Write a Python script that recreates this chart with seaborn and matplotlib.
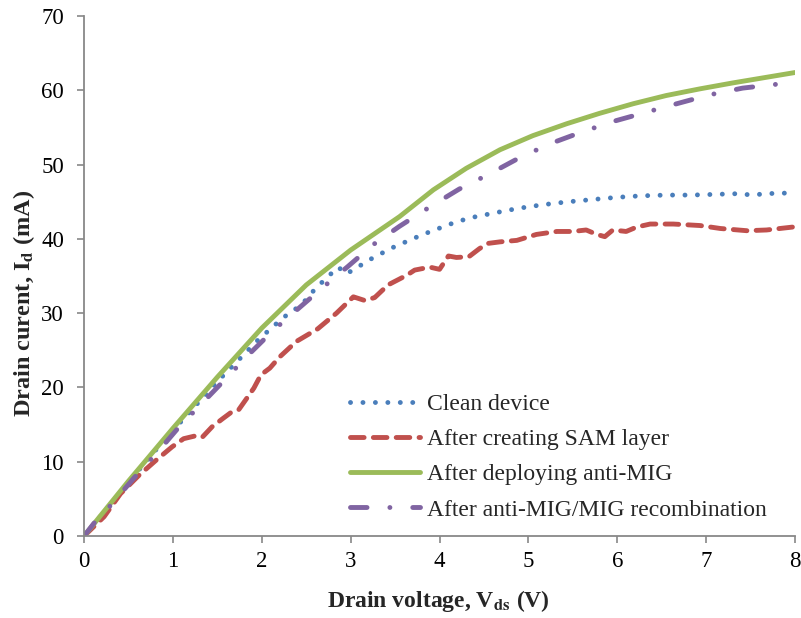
import matplotlib
matplotlib.use("Agg")
import matplotlib.pyplot as plt
import seaborn as sns
import numpy as np

# ---- data ----
clean_x = [0, 0.25, 0.5, 0.75, 1, 1.25, 1.5, 1.755, 1.94, 2.24, 2.35, 2.46, 2.55, 2.62, 2.76, 2.86, 2.95,
           3.07, 3.18, 3.31, 3.43, 3.56, 3.68, 3.81, 3.95, 4.07, 4.33, 4.62, 4.88, 5.16, 5.45, 5.72, 6.0,
           6.27, 6.55, 6.83, 7.11, 7.39, 7.5, 7.7, 8]
clean_y = [0, 3.6, 7.2, 10.8, 14.2, 17.5, 20.8, 23.9, 26.2, 29.4, 30.3, 31.3, 32.6, 33.5, 35.1, 36.2, 35.3,
           36.1, 37.0, 37.8, 38.6, 39.3, 39.9, 40.6, 41.2, 41.8, 42.8, 43.5, 44.1, 44.6, 45.0, 45.3, 45.6,
           45.8, 45.9, 45.9, 46.0, 46.1, 45.9, 46.1, 46.2]

sam_x = [0, 0.225, 0.41, 0.62, 0.81, 0.99, 1.12, 1.26, 1.33, 1.44, 1.56, 1.65, 1.74, 1.84, 1.91, 1.99, 2.09,
         2.2, 2.39, 2.63, 2.84, 3.03, 3.16, 3.27, 3.42, 3.63, 3.72, 3.89, 4.0, 4.1, 4.19, 4.33, 4.45, 4.55,
         4.68, 4.87, 5.09, 5.32, 5.5, 5.65, 5.77, 5.86, 5.95, 6.1, 6.22, 6.37, 6.63, 6.93, 7.16, 7.46, 7.68, 7.98]
sam_y = [0, 2.6, 5.7, 8.2, 10.2, 12.0, 13.1, 13.5, 13.3, 14.7, 15.8, 16.6, 17.0, 18.7, 19.9, 21.7, 22.6,
         24.1, 26.2, 27.9, 30.0, 32.2, 31.7, 32.1, 33.8, 35.1, 35.8, 36.2, 35.9, 37.7, 37.5, 37.6, 38.7, 39.4,
         39.6, 39.8, 40.6, 41.0, 41.0, 41.2, 40.6, 40.3, 41.2, 41.0, 41.6, 42.0, 42.0, 41.8, 41.4, 41.1, 41.2, 41.6]

anti_x = [0, 0.5, 1, 1.5, 2, 2.5, 3, 3.55, 3.93, 4.3, 4.68, 5.05, 5.43, 5.8, 6.18, 6.55, 6.93, 7.3, 7.65, 8]
anti_y = [0, 7.4, 14.5, 21.4, 28.0, 33.8, 38.5, 43.0, 46.6, 49.5, 52.0, 53.9, 55.5, 56.9, 58.2, 59.3, 60.2,
          61.0, 61.7, 62.4]

rec_x = [0, 0.11, 0.32, 0.56, 0.82, 1.07, 1.33, 1.58, 1.85, 2.13, 2.39, 2.69, 2.97, 3.25, 3.55, 3.89, 4.22,
         4.57, 4.88, 5.24, 5.58, 5.95, 6.31, 6.67, 7.04, 7.41, 7.78, 8]
rec_y = [0, 1.7, 4.4, 7.8, 11.2, 14.7, 17.9, 21.0, 24.4, 27.7, 30.4, 33.5, 36.3, 39.2, 41.7, 44.3, 46.7,
         48.8, 50.8, 52.8, 54.3, 55.8, 57.0, 58.2, 59.4, 60.3, 60.8, 61.3]

labels = ["Clean device", "After creating SAM layer", "After deploying anti-MIG",
          "After anti-MIG/MIG recombination"]
x_ticks = [0, 1, 2, 3, 4, 5, 6, 7, 8]
y_ticks = [0, 10, 20, 30, 40, 50, 60, 70]

# ---- style ----
sns.set_style("white")
plt.rcParams['font.family'] = ['Liberation Serif', 'DejaVu Serif']
plt.rcParams['mathtext.fontset'] = 'stix'

fig = plt.figure(figsize=(8.01, 6.18), dpi=100)
ax = fig.add_axes([0.105, 0.1327, 0.8875, 0.8413])

lw = 3.5
sns.lineplot(x=clean_x, y=clean_y, ax=ax, color="#4A7EBB", lw=lw, label=labels[0],
             linestyle=(0, (0.01, 2.55)), dash_capstyle='round', sort=False, estimator=None)
sns.lineplot(x=sam_x, y=sam_y, ax=ax, color="#C0504D", lw=lw, label=labels[1],
             linestyle=(0, (2.8, 1.9)), dash_capstyle='round', sort=False, estimator=None)
sns.lineplot(x=anti_x, y=anti_y, ax=ax, color="#9BBB59", lw=lw, label=labels[2],
             linestyle='-', solid_capstyle='round', sort=False, estimator=None)
sns.lineplot(x=rec_x, y=rec_y, ax=ax, color="#8064A2", lw=lw, label=labels[3],
             linestyle=(0, (3.4, 4.7, 0.01, 4.7)), dash_capstyle='round', sort=False, estimator=None)

ax.set_xlim(0, 8)
ax.set_ylim(0, 70)
ax.set_xticks(x_ticks)
ax.set_yticks(y_ticks)
ax.tick_params(axis='both', labelsize=16.5, direction='out', length=5, width=1.2,
               color='#888888', labelcolor='black', bottom=True, left=True)
ax.tick_params(axis='x', pad=6)
ax.tick_params(axis='y', pad=9.5)
for s in ['top', 'right']:
    ax.spines[s].set_visible(False)
for s in ['left', 'bottom']:
    ax.spines[s].set_color('#888888')
    ax.spines[s].set_linewidth(1.3)

ax.set_xlabel(r"Drain voltage, V$_{\mathbf{ds}}$ (V)", fontsize=17, fontweight='bold')
ax.set_ylabel(r"Drain curent, I$_{\mathbf{d}}$ (mA)", fontsize=17.5, fontweight='bold')
ax.xaxis.set_label_coords(0.4986, -0.1)
ax.yaxis.set_label_coords(-0.066, 0.448)

leg = ax.legend(loc='lower left', bbox_to_anchor=(0.361, 0.0115), frameon=False, fontsize=17,
                handlelength=2.97, handletextpad=0.3, labelspacing=0.58, borderaxespad=0)

fig.savefig("out.png", dpi=100)
